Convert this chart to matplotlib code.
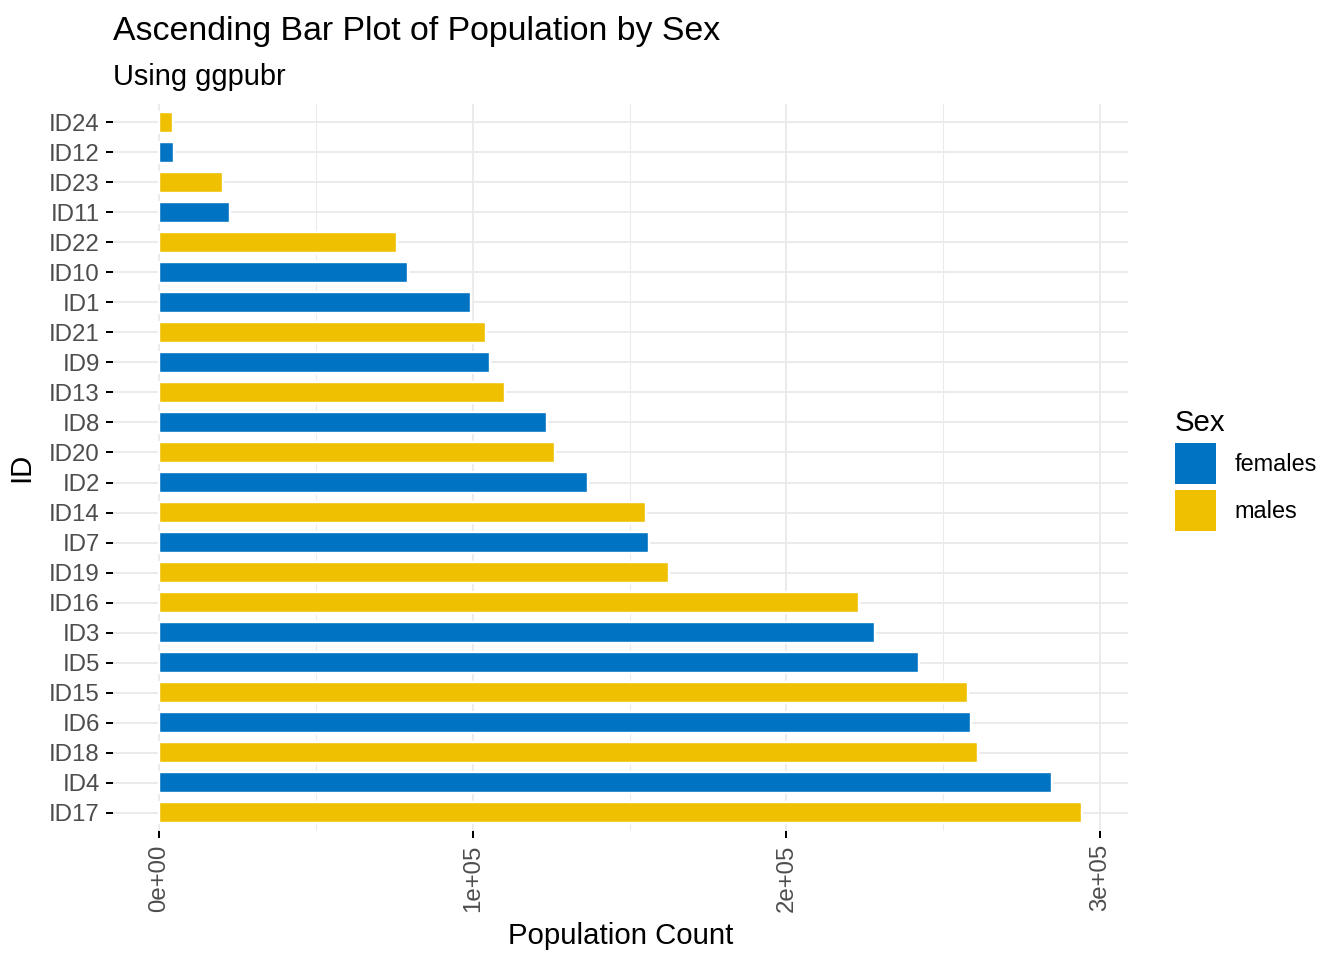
import matplotlib
matplotlib.use("Agg")
import matplotlib.pyplot as plt
from matplotlib.patches import Patch
from matplotlib.ticker import MultipleLocator

plt.rcParams['font.family'] = ['Liberation Sans', 'DejaVu Sans']

# Data (bottom to top)
ids = ["ID17", "ID4", "ID18", "ID6", "ID15", "ID5", "ID3", "ID16", "ID19", "ID7",
       "ID14", "ID2", "ID20", "ID8", "ID13", "ID9", "ID21", "ID1", "ID10", "ID22",
       "ID11", "ID23", "ID12", "ID24"]
population = [294200, 284700, 261100, 258800, 257900, 242300, 228200, 223100, 162600, 156200,
              155200, 136800, 126200, 123700, 110300, 105500, 104200, 99500, 79400, 75900,
              22600, 20400, 4800, 4500]
sex = ["males", "females", "males", "females", "males", "females", "females", "males", "males", "females",
       "males", "females", "males", "females", "males", "females", "males", "females", "females", "males",
       "females", "males", "females", "males"]
sex_levels = ["females", "males"]
palette = {"females": "#0073C2", "males": "#EFC000"}
x_ticks = [0, 100000, 200000, 300000]
x_tick_labels = ["0e+00", "1e+05", "2e+05", "3e+05"]

fig = plt.figure(figsize=(7, 5), dpi=192)
ax = fig.add_axes([113/1344, 1-831/960, (1128-113)/1344, (831-104)/960])

ypos = list(range(len(ids)))
ax.barh(ypos, population, height=0.7, color=[palette[s] for s in sex],
        edgecolor="white", linewidth=0.9, zorder=3)

xmax = max(population)
ax.set_xlim(-0.05*xmax, 1.05*xmax)
ax.set_ylim(-0.6, len(ids)-1+0.6)
ax.set_yticks(ypos)
ax.set_yticklabels(ids)
ax.set_xticks(x_ticks)
ax.set_xticklabels(x_tick_labels, rotation=90)
ax.xaxis.set_minor_locator(MultipleLocator(50000))

for s in ax.spines.values():
    s.set_visible(False)
ax.grid(True, which='major', color="#EBEBEB", linewidth=0.75, zorder=0)
ax.grid(True, which='minor', axis='x', color="#EBEBEB", linewidth=0.4, zorder=0)
ax.set_axisbelow(True)
ax.tick_params(axis='both', which='major', length=2.75, width=0.75, color="black",
               labelcolor="#4D4D4D", labelsize=9.0, pad=2.2)
ax.tick_params(axis='x', which='minor', length=0)

ax.set_xlabel("Population Count", fontsize=11, color="black", labelpad=4)
ax.set_ylabel("ID", fontsize=11, color="black", labelpad=5)

fig.text(113/1344, 1-40/960, "Ascending Bar Plot of Population by Sex", fontsize=12.7,
         ha="left", va="baseline", color="black")
fig.text(113/1344, 1-85/960, "Using ggpubr", fontsize=10.9,
         ha="left", va="baseline", color="black")

handles = [Patch(facecolor=palette[s], edgecolor="none") for s in sex_levels]
leg = fig.legend(handles, sex_levels, loc="center left", bbox_to_anchor=((1175-14)/1344, 1-470/960),
                 frameon=False, fontsize=8.8, title="Sex", title_fontsize=11,
                 handlelength=1.75, handleheight=2.3, handletextpad=0.77,
                 labelspacing=0.26, borderpad=0.6, borderaxespad=0, alignment="left")

fig.savefig("out.png", dpi=192)
